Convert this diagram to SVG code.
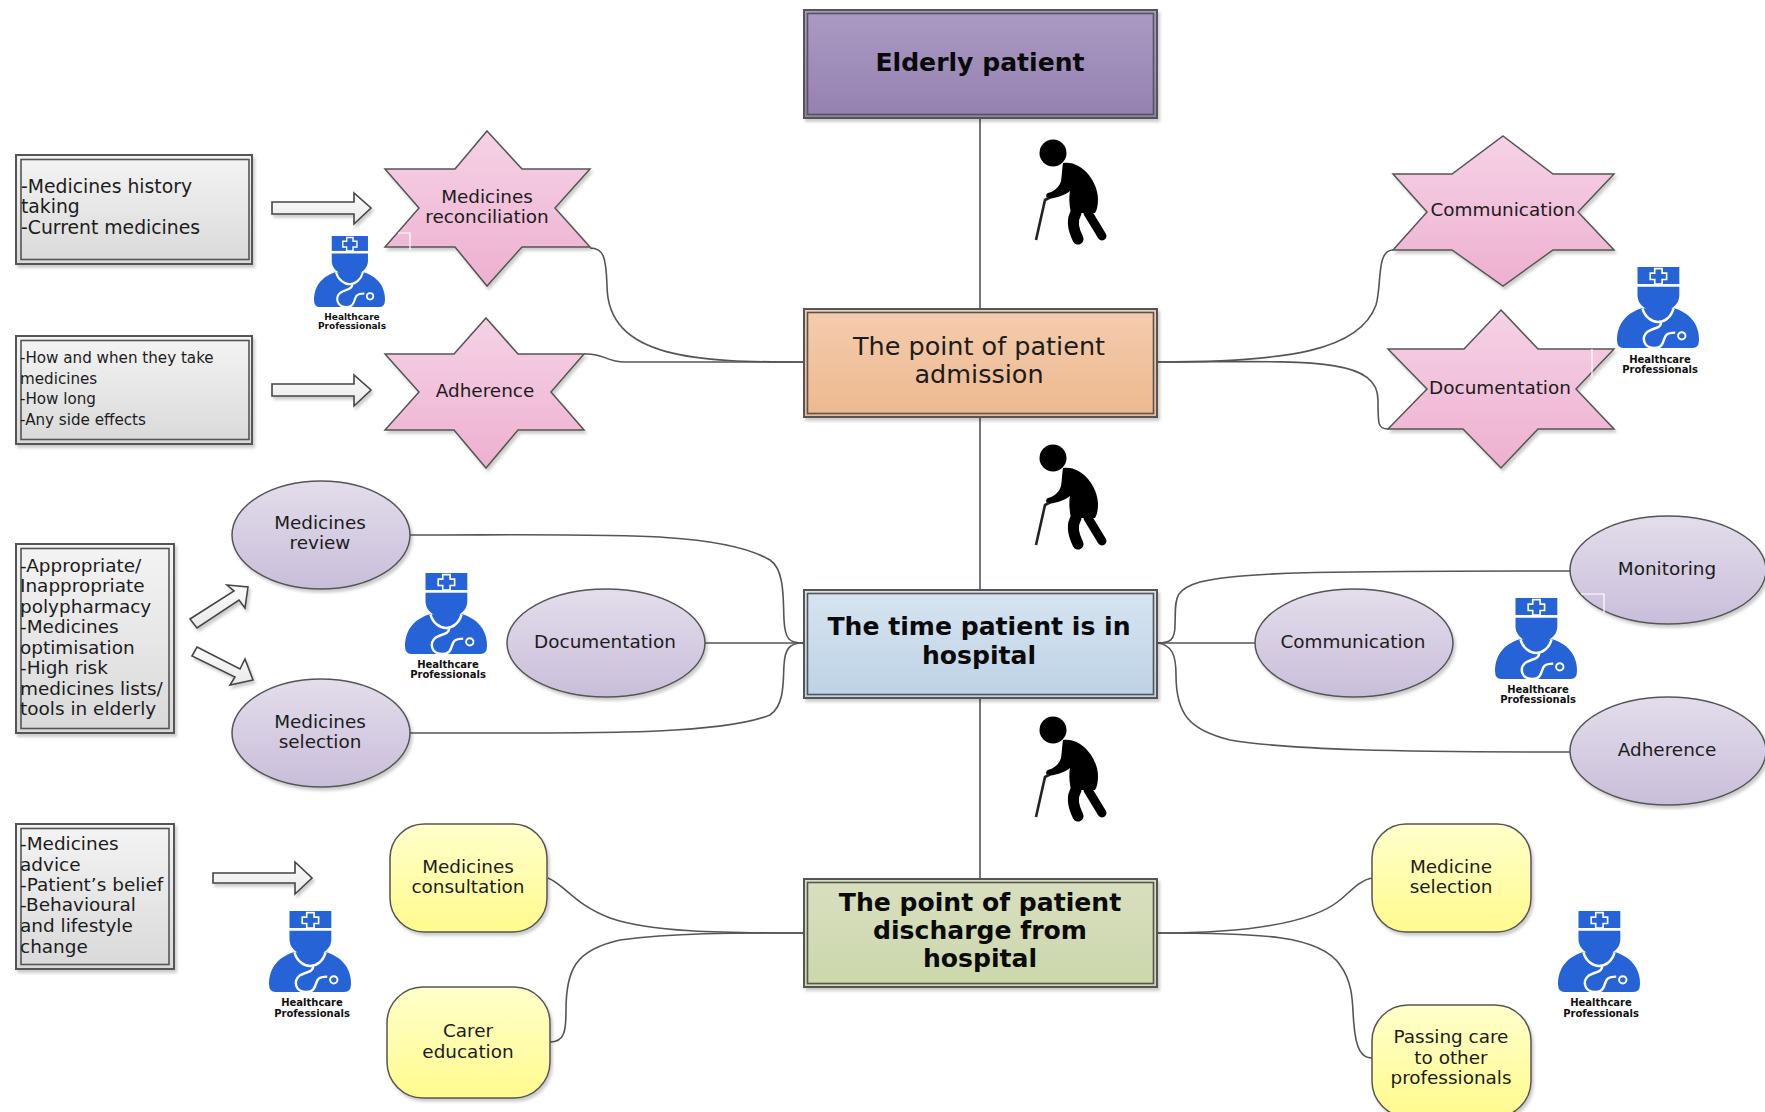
<svg xmlns="http://www.w3.org/2000/svg" width="1765" height="1112" viewBox="0 0 1765 1112">
<style>
text{font-family:"DejaVu Sans",Verdana,sans-serif;fill:#1c1c1c}
.c{text-anchor:middle}
.b{font-weight:700;fill:#0a0a0a;font-size:25.100px}
.t18{font-size:18.400px}
.n1{font-size:18.800px}
.n2{font-size:15.150px}
.n3{font-size:18.450px}
.big{font-size:25.500px}
.hp{font-size:10px;font-weight:700;text-anchor:middle;fill:#111}
.hps{font-size:9px;font-weight:700;text-anchor:middle;fill:#111}
.edge{fill:none;stroke:#555;stroke-width:1.600}
.o{stroke:#555;stroke-width:2}
.i{fill:none;stroke:#555;stroke-width:1.600}
.s{stroke:#555;stroke-width:1.500;filter:url(#sh)}
.corner{fill:none;stroke:#fff;stroke-width:1.200}
.arrow{fill:url(#gArrow);stroke:#444;stroke-width:1.600;filter:url(#sh)}
</style>
<defs>
<filter id="sh" x="-10%" y="-10%" width="125%" height="125%"><feDropShadow dx="2" dy="3" stdDeviation="1.500" flood-color="#000" flood-opacity=".2"/></filter>
<linearGradient id="gPurple" x1="0" y1="0" x2="0" y2="1"><stop offset="0" stop-color="#AA9BC3"/><stop offset="1" stop-color="#9580B0"/></linearGradient>
<linearGradient id="gOrange" x1="0" y1="0" x2="0" y2="1"><stop offset="0" stop-color="#F4CDAE"/><stop offset="1" stop-color="#EDB88F"/></linearGradient>
<linearGradient id="gBlue" x1="0" y1="0" x2="0" y2="1"><stop offset="0" stop-color="#D7E4F0"/><stop offset="1" stop-color="#BDD2E5"/></linearGradient>
<linearGradient id="gGreen" x1="0" y1="0" x2="0" y2="1"><stop offset="0" stop-color="#D8DFBF"/><stop offset="1" stop-color="#CCD7AB"/></linearGradient>
<linearGradient id="gGrey" x1="0" y1="0" x2="0" y2="1"><stop offset="0" stop-color="#F4F4F4"/><stop offset="1" stop-color="#D9D9D9"/></linearGradient>
<linearGradient id="gArrow" x1="0" y1="0" x2="0" y2="1"><stop offset="0" stop-color="#FBFBFB"/><stop offset="1" stop-color="#E9E9E9"/></linearGradient>
<linearGradient id="gPink" x1="0" y1="0" x2="0" y2="1"><stop offset="0" stop-color="#F5D2E6"/><stop offset="1" stop-color="#EEB0D0"/></linearGradient>
<linearGradient id="gLav" x1="0" y1="0" x2="0" y2="1"><stop offset="0" stop-color="#E3DDEB"/><stop offset="1" stop-color="#C9BEDA"/></linearGradient>
<linearGradient id="gYel" x1="0" y1="0" x2="0" y2="1"><stop offset="0" stop-color="#FFFFCB"/><stop offset="1" stop-color="#FFFB8E"/></linearGradient>
<g id="doc">
<rect x="25" y="0" width="51" height="21" fill="#2563D6"/>
<path d="M46 2h9v5.500h5.500v8h-5.500v5.500h-9v-5.500h-5.500v-8h5.500z" fill="#2563D6" stroke="#fff" stroke-width="2"/>
<path d="M25 24.500H76V35C76 44 70 50 63 53H38C31 50 25 44 25 35Z" fill="#2563D6"/>
<path d="M0 90C0 68 14 56 30 51L70 51C86 56 100 68 100 90Q100 100 92 100L8 100Q0 100 0 90Z" fill="#2563D6"/>
<path d="M31 51C34 62 43 68 50 68C58 68 66 62 69 51M54 68C54 76 44 75 37 80C30 86 31 100 46 100C58 100 56 88 60 84C63 81 67 81 71 81" fill="none" stroke="#fff" stroke-width="3"/>
<circle cx="79" cy="85" r="4.500" fill="#2563D6" stroke="#fff" stroke-width="2.400"/>
</g>
<g id="elder">
<circle cx="0" cy="0" r="13.500" fill="#000"/>
<path d="M10 10C28 7 45 28 45 46C45 52 44 57 42 60L18 60C16 50 16 44 17 38C12 42 6 44 -4 46C-7 46 -8 41 -5 40C2 38 6 34 8 28C9 22 9 16 10 10Z" fill="#000"/>
<path d="M23 60C18 68 21 78 25 86" fill="none" stroke="#000" stroke-width="11" stroke-linecap="round"/>
<path d="M35 60L49 83" fill="none" stroke="#000" stroke-width="9" stroke-linecap="round"/>
<path d="M-17 87L-8 47L-4 45" fill="none" stroke="#222" stroke-width="2.600"/>
</g>
</defs>
<rect width="1765" height="1112" fill="#fff"/>

<g id="connectors">
<path class="edge" d="M980 118V308M980 417V589M980 698V878"/>
<path class="edge" d="M803 362C700 362 607 360 607 285C606 258 604 248 590 248"/>
<path class="edge" d="M803 362H625C605 362 605 353 584 354"/>
<path class="edge" d="M1158 362C1290 362 1360 350 1376 305C1382 285 1376 250 1393 250"/>
<path class="edge" d="M1158 362C1300 362 1378 355 1378 400C1378 425 1378 429 1388 429"/>
<path class="edge" d="M410 535C600 535 720 530 770 560C785 570 783 600 784 620C785 640 790 643 803 643"/>
<path class="edge" d="M410 733C600 733 720 735 770 715C785 705 783 680 784 665C785 648 790 643 803 643"/>
<path class="edge" d="M705 643H803"/>
<path class="edge" d="M1158 643H1255"/>
<path class="edge" d="M1158 643C1170 643 1175 640 1175 625C1176 600 1172 590 1200 582C1240 572 1320 571 1570 571"/>
<path class="edge" d="M1158 643C1172 645 1176 655 1176 675C1176 715 1190 730 1230 740C1290 750 1400 752 1570 752"/>
<path class="edge" d="M548 878C565 885 575 905 610 918C650 932 720 933 803 933"/>
<path class="edge" d="M550 1042C565 1042 566 1030 566 1010C566 970 575 950 620 940C680 932 750 933 803 933"/>
<path class="edge" d="M1158 933C1240 933 1310 925 1340 900C1352 890 1360 880 1372 878"/>
<path class="edge" d="M1158 933C1260 933 1320 935 1340 965C1355 985 1352 1010 1354 1025C1356 1050 1362 1058 1372 1058"/>
</g>

<g id="elderly-patient"><rect class="o" x="804" y="10" width="353" height="108" fill="url(#gPurple)" filter="url(#sh)"/><rect class="i" x="807.500" y="13.500" width="346" height="101"/><text class="c b" x="980" y="71">Elderly patient</text></g>
<g id="admission"><rect class="o" x="804" y="309" width="353" height="108" fill="url(#gOrange)" filter="url(#sh)"/><rect class="i" x="807.500" y="312.500" width="346" height="101"/><text class="c big" x="979" y="355">The point of patient</text><text class="c big" x="979" y="383">admission</text></g>
<g id="in-hospital"><rect class="o" x="804" y="590" width="353" height="108" fill="url(#gBlue)" filter="url(#sh)"/><rect class="i" x="807.500" y="593.500" width="346" height="101"/><text class="c b" x="979" y="635">The time patient is in</text><text class="c b" x="979" y="664">hospital</text></g>
<g id="discharge"><rect class="o" x="804" y="879" width="353" height="108" fill="url(#gGreen)" filter="url(#sh)"/><rect class="i" x="807.500" y="882.500" width="346" height="101"/><text class="c b" x="980" y="911">The point of patient</text><text class="c b" x="980" y="939">discharge from</text><text class="c b" x="980" y="967">hospital</text></g>

<g id="note-reconciliation"><rect class="o" x="16" y="155" width="236" height="109" fill="url(#gGrey)" filter="url(#sh)"/><rect class="i" x="21" y="159.500" width="228" height="100"/><text class="n1" x="21" y="193">-Medicines history</text><text class="n1" x="21" y="213">taking</text><text class="n1" x="21" y="234">-Current medicines</text></g>
<g id="note-adherence"><rect class="o" x="16" y="336" width="236" height="108" fill="url(#gGrey)" filter="url(#sh)"/><rect class="i" x="21" y="340.500" width="228" height="99"/><text class="n2" x="20" y="363">-How and when they take</text><text class="n2" x="20" y="384">medicines</text><text class="n2" x="20" y="404">-How long</text><text class="n2" x="20" y="425">-Any side effects</text></g>
<g id="note-hospital"><rect class="o" x="16" y="544" width="158" height="189" fill="url(#gGrey)" filter="url(#sh)"/><rect class="i" x="21" y="548.500" width="148" height="180"/><text class="n3" x="20" y="572">-Appropriate/</text><text class="n3" x="20" y="592">Inappropriate</text><text class="n3" x="20" y="613">polypharmacy</text><text class="n3" x="20" y="633">-Medicines</text><text class="n3" x="20" y="654">optimisation</text><text class="n3" x="20" y="674">-High risk</text><text class="n3" x="20" y="695">medicines lists/</text><text class="n3" x="20" y="715">tools in elderly</text></g>
<g id="note-discharge"><rect class="o" x="16" y="824" width="158" height="145" fill="url(#gGrey)" filter="url(#sh)"/><rect class="i" x="21" y="828.500" width="148" height="136"/><text class="n3" x="20" y="850">-Medicines</text><text class="n3" x="20" y="871">advice</text><text class="n3" x="20" y="891">-Patient’s belief</text><text class="n3" x="20" y="911">-Behavioural</text><text class="n3" x="20" y="932">and lifestyle</text><text class="n3" x="20" y="953">change</text></g>

<g id="arrow-1"><path class="arrow" d="M272 202H354V193L371 208L354 224V214H272Z"/></g>
<g id="arrow-2"><path class="arrow" d="M272 384H354V375L371 390L354 406V396H272Z"/></g>
<g id="arrow-3"><path class="arrow" d="M190 619L234 591L227 585L248 587L245 608L239 600L197 628Z"/></g>
<g id="arrow-4"><path class="arrow" d="M197 647L240 669L245 659L253 680L230 685L235 677L192 656Z"/></g>
<g id="arrow-5"><path class="arrow" d="M213 873H295V862L312 878L295 894V883H213Z"/></g>

<g id="star-reconciliation"><path class="s" fill="url(#gPink)" d="M487 131L522 169H590L555 208L590 247H522L487 286L455 247H385L419 208L385 169H455Z"/><path class="corner" d="M398 233H410V250"/><text class="c t18" x="487" y="203">Medicines</text><text class="c t18" x="487" y="223">reconciliation</text></g>
<g id="star-adherence"><path class="s" fill="url(#gPink)" d="M486 318L518 354H584L551 392L584 430H518L486 468L454 430H385L419 392L385 354H454Z"/><text class="c t18" x="485" y="397">Adherence</text></g>
<g id="star-communication"><path class="s" fill="url(#gPink)" d="M1503 136L1553 174H1614L1578 212L1614 250H1553L1503 286L1452 250H1393L1427 212L1393 174H1452Z"/><text class="c t18" x="1503" y="216">Communication</text></g>
<g id="star-documentation"><path class="s" fill="url(#gPink)" d="M1501 310L1538 349H1614L1576 389L1614 429H1538L1501 468L1463 429H1388L1427 389L1388 349H1464Z"/><path class="corner" d="M1592 349V378"/><text class="c t18" x="1500" y="394">Documentation</text></g>

<g id="ellipse-review"><ellipse class="s" fill="url(#gLav)" cx="321" cy="535" rx="89" ry="54"/><text class="c t18" x="320" y="529">Medicines</text><text class="c t18" x="320" y="549">review</text></g>
<g id="ellipse-selection"><ellipse class="s" fill="url(#gLav)" cx="321" cy="733" rx="89" ry="54"/><text class="c t18" x="320" y="728">Medicines</text><text class="c t18" x="320" y="748">selection</text></g>
<g id="ellipse-documentation"><ellipse class="s" fill="url(#gLav)" cx="606" cy="643" rx="99" ry="54"/><text class="c t18" x="605" y="648">Documentation</text></g>
<g id="ellipse-communication"><ellipse class="s" fill="url(#gLav)" cx="1354" cy="643" rx="99" ry="54"/><text class="c t18" x="1353" y="648">Communication</text></g>
<g id="ellipse-monitoring"><ellipse class="s" fill="url(#gLav)" cx="1668" cy="570" rx="98" ry="54"/><path class="corner" d="M1581 594H1604V613"/><text class="c t18" x="1667" y="575">Monitoring</text></g>
<g id="ellipse-adherence"><ellipse class="s" fill="url(#gLav)" cx="1668" cy="751" rx="98" ry="54"/><text class="c t18" x="1667" y="756">Adherence</text></g>

<g id="box-consultation"><rect class="s" fill="url(#gYel)" x="390" y="824" width="157" height="108" rx="34"/><text class="c t18" x="468" y="873">Medicines</text><text class="c t18" x="468" y="893">consultation</text></g>
<g id="box-carer"><rect class="s" fill="url(#gYel)" x="387" y="987" width="163" height="111" rx="36"/><text class="c t18" x="468" y="1037">Carer</text><text class="c t18" x="468" y="1058">education</text></g>
<g id="box-medicine-selection"><rect class="s" fill="url(#gYel)" x="1372" y="824" width="159" height="108" rx="34"/><text class="c t18" x="1451" y="873">Medicine</text><text class="c t18" x="1451" y="893">selection</text></g>
<g id="box-passing"><rect class="s" fill="url(#gYel)" x="1372" y="1005" width="159" height="112" rx="36"/><text class="c t18" x="1451" y="1043">Passing care</text><text class="c t18" x="1451" y="1064">to other</text><text class="c t18" x="1451" y="1084">professionals</text></g>

<g id="hcp-1"><use href="#doc" transform="translate(314 236) scale(.71)"/><text class="hps" x="352" y="320">Healthcare</text><text class="hps" x="352" y="329">Professionals</text></g>
<g id="hcp-2"><use href="#doc" transform="translate(1617 267) scale(.82 .81)"/><text class="hp" x="1660" y="363">Healthcare</text><text class="hp" x="1660" y="373">Professionals</text></g>
<g id="hcp-3"><use href="#doc" transform="translate(405 573) scale(.82 .81)"/><text class="hp" x="448" y="668">Healthcare</text><text class="hp" x="448" y="678">Professionals</text></g>
<g id="hcp-4"><use href="#doc" transform="translate(1495 598) scale(.82 .81)"/><text class="hp" x="1538" y="693">Healthcare</text><text class="hp" x="1538" y="703">Professionals</text></g>
<g id="hcp-5"><use href="#doc" transform="translate(269 911) scale(.82 .81)"/><text class="hp" x="312" y="1006">Healthcare</text><text class="hp" x="312" y="1017">Professionals</text></g>
<g id="hcp-6"><use href="#doc" transform="translate(1558 911) scale(.82 .81)"/><text class="hp" x="1601" y="1006">Healthcare</text><text class="hp" x="1601" y="1017">Professionals</text></g>

<g id="elder-1"><use href="#elder" x="1053" y="153"/></g>
<g id="elder-2"><use href="#elder" x="1053" y="458"/></g>
<g id="elder-3"><use href="#elder" x="1053" y="730"/></g>
</svg>
